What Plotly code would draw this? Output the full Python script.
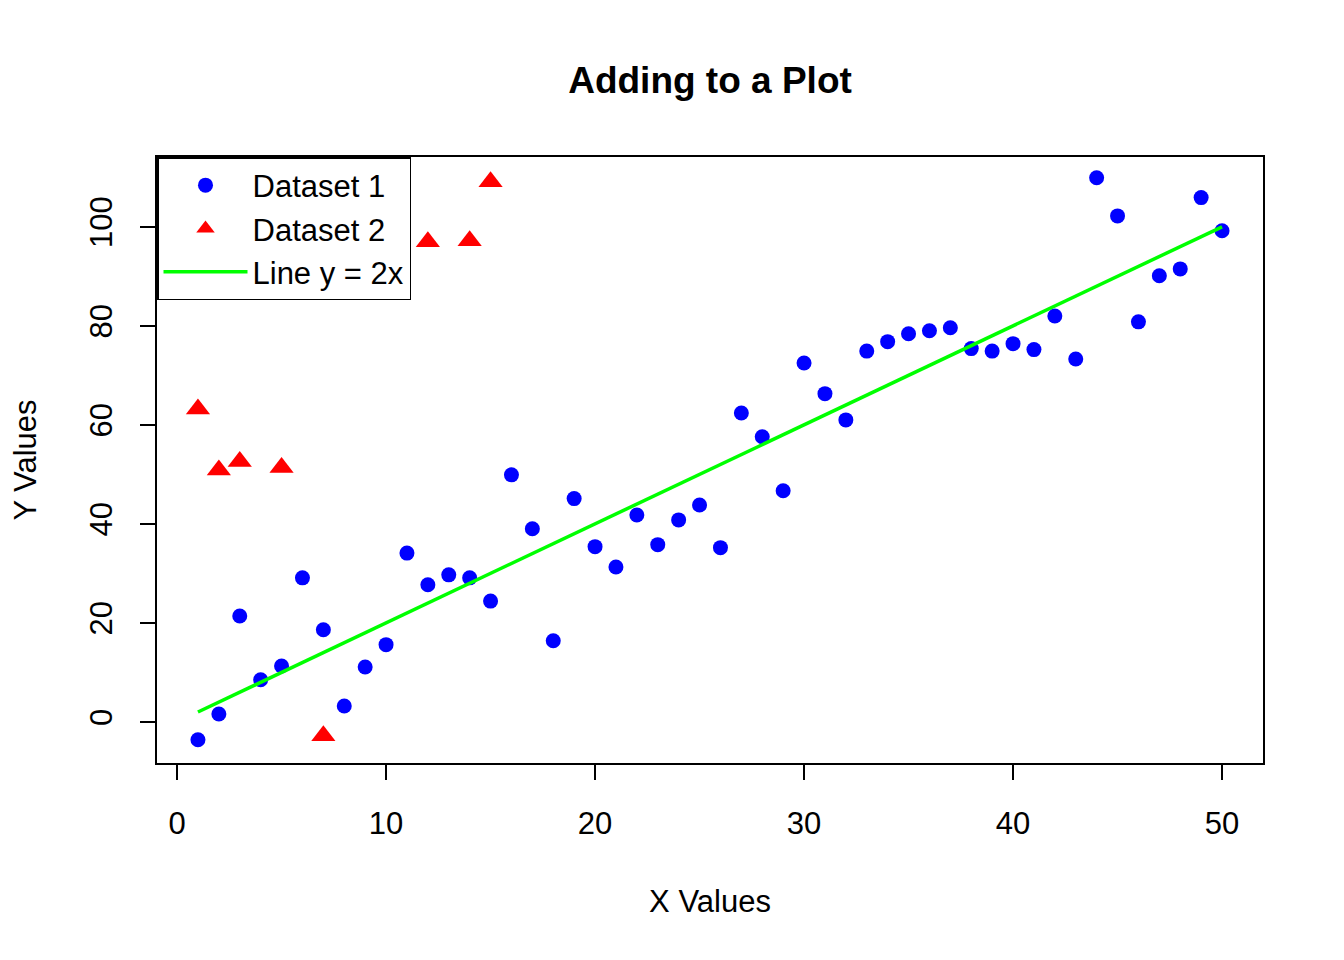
import plotly.graph_objects as go

# Dataset 1: x = 1..50
x1 = list(range(1, 51))
y1 = [-3.6, 1.6, 21.4, 8.5, 11.3, 29.1, 18.6, 3.2, 11.1, 15.6,
      34.1, 27.7, 29.7, 29.1, 24.4, 49.9, 39.0, 16.4, 45.1, 35.4,
      31.3, 41.8, 35.8, 40.8, 43.8, 35.2, 62.4, 57.6, 46.7, 72.5,
      66.3, 61.0, 74.9, 76.8, 78.4, 79.0, 79.6, 75.4, 74.9, 76.4,
      75.2, 82.0, 73.3, 109.9, 102.2, 80.8, 90.1, 91.5, 105.9, 99.2]

# Dataset 2 (visible points)
x2 = [1, 2, 3, 5, 7, 12, 14, 15]
y2 = [63.2, 50.9, 52.6, 51.4, -2.8, 97.0, 97.2, 109.1]

# Line y = 2x
line_x = [1, 50]
line_y = [2 * v for v in line_x]

font = "Liberation Sans, Arial, sans-serif"

fig = go.Figure()
fig.add_trace(go.Scatter(x=x1, y=y1, mode="markers", name="Dataset 1",
                         marker=dict(color="blue", size=15, symbol="circle")))
fig.add_trace(go.Scatter(x=x2, y=y2, mode="markers", name="Dataset 2",
                         marker=dict(color="red", size=21, symbol="triangle-up")))
fig.add_trace(go.Scatter(x=line_x, y=line_y, mode="lines", name="Line y = 2x",
                         line=dict(color="#00ff00", width=3.5)))

# page has an 8px body margin, so offset margins by 8
fig.update_layout(
    width=1336, height=952,
    paper_bgcolor="white", plot_bgcolor="white",
    margin=dict(l=149, r=81, t=149, b=197),
    font=dict(family=font, size=31, color="black"),
    title=dict(text="<b>Adding to a Plot</b>", x=(710 - 8) / 1336, xanchor="center",
               y=1 - (80 - 8) / 952, yanchor="middle", font=dict(size=37)),
    legend=dict(x=0, y=1, xanchor="left", yanchor="top",
                bgcolor="white", bordercolor="black", borderwidth=1.5,
                font=dict(size=31), itemwidth=84, tracegroupgap=0),
    showlegend=True,
)
fig.update_xaxes(range=[-0.96, 51.96], tickvals=[0, 10, 20, 30, 40, 50],
                 showgrid=False, zeroline=False, showline=True, mirror=True,
                 linecolor="black", linewidth=1.5, ticks="outside", ticklen=15,
                 tickwidth=1.5, tickcolor="black", ticklabelstandoff=17,
                 tickfont=dict(size=31), automargin=False,
                 title=dict(text="X Values", standoff=50, font=dict(size=31)))
fig.update_yaxes(range=[-8.3, 114.1], tickvals=[0, 20, 40, 60, 80, 100],
                 showgrid=False, zeroline=False, showline=True, mirror=True,
                 linecolor="black", linewidth=1.5, ticks="outside", ticklen=15,
                 tickwidth=1.5, tickcolor="black", tickangle=-90,
                 ticklabelstandoff=16, tickfont=dict(size=31), automargin=False,
                 title=dict(text="Y Values", standoff=38, font=dict(size=31)))

fig.write_html("out.html")
